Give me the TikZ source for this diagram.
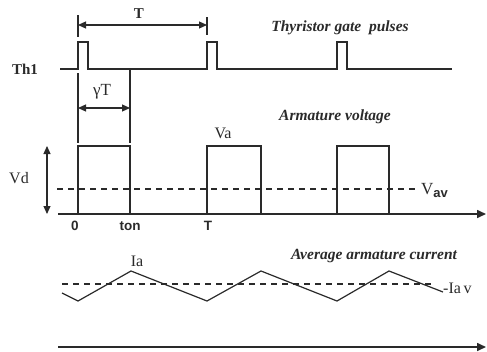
\documentclass[tikz,border=0pt]{standalone}
\usepackage{fontspec}
\setmainfont{Liberation Serif}
\setsansfont{Liberation Sans}
\usetikzlibrary{arrows.meta}
\definecolor{ink}{HTML}{2A2A2A}
\tikzset{
  sig/.style={draw=ink, line width=1.2pt},
  axis/.style={draw=ink, line width=1.6pt, -{Triangle[length=9pt,width=8pt]}},
  dimline/.style={draw=ink, line width=1.1pt},
  dimarrow/.style={draw=ink, line width=1.1pt, {Triangle[length=8pt,width=7pt]}-{Triangle[length=8pt,width=7pt]}},
  avgline/.style={draw=ink, line width=1.2pt, dash pattern=on 6pt off 5pt},
  blob/.style={draw=ink, line width=2pt},
  title/.style={font=\fontsize{15.5}{17}\selectfont\bfseries\itshape, text=ink, inner sep=0pt},
  lab/.style={font=\fontsize{16}{18}\selectfont, text=ink, inner sep=0pt},
  tick/.style={font=\sffamily\bfseries\fontsize{13.5}{15}\selectfont, text=ink, inner sep=0pt},
}
\begin{document}
\begin{tikzpicture}[x=1pt,y=-1pt]
\useasboundingbox (0,0) rectangle (487,351);
\fill[white] (0,0) rectangle (487,351);

% ---------- gate pulses ----------
\draw[sig] (60,69) -- (78,69) -- (78,42) -- (88,42) -- (88,69) -- (207,69) -- (207,42) -- (217,42) -- (217,69)
  -- (337,69) -- (337,42) -- (347,42) -- (347,69) -- (452,69);
\draw[blob] (132,69) -- (147,69);
\draw[blob] (259,69) -- (276,69);
\draw[blob] (388,69) -- (402,69);
\node[lab, font=\fontsize{15}{17}\selectfont\bfseries] (th) at (25,69) {Th1};
\node[title] (tgp) at (340,28) {Thyristor gate\ \ pulses};

% T dimension
\coordinate (t0a) at (78,15);
\coordinate (t0b) at (78,37);
\coordinate (t1a) at (207,17);
\coordinate (t1b) at (207,35);
\draw[dimline] (t0a) -- (t0b);
\draw[dimline] (t1a) -- (t1b);
\coordinate (ta) at (78,25);
\coordinate (tb) at (207,25);
\draw[dimarrow] (ta) -- (tb);
\node[lab, font=\fontsize{15}{17}\selectfont\bfseries] (T) at (139,14) {T};

% gamma T dimension
\coordinate (g0a) at (78,73);
\coordinate (g0b) at (78,143);
\coordinate (g1a) at (130,69);
\coordinate (g1b) at (130,143);
\draw[dimline] (g0a) -- (g0b);
\draw[dimline] (g1a) -- (g1b);
\coordinate (ga) at (78,108);
\coordinate (gb) at (130,108);
\draw[dimarrow] (ga) -- (gb);
\node[lab, font=\fontsize{17}{19}\selectfont] (gT) at (102,92) {γT};

% ---------- armature voltage ----------
\node[title] (av) at (335,117) {Armature voltage};
\coordinate (ax0) at (58,214);
\coordinate (ax1) at (486,214);
\draw[axis] (ax0) -- (ax1);
\draw[sig] (58,214) -- (78,214) -- (78,146) -- (130,146) -- (130,214) -- (207,214) -- (207,146) -- (261,146) -- (261,214)
  -- (337,214) -- (337,146) -- (389,146) -- (389,214);
\coordinate (va0) at (57,189);
\coordinate (va1) at (418,189);
\draw[avgline] (va0) -- (va1);
\node[lab, anchor=west, font=\fontsize{17}{19}\selectfont] (vav) at (421,190) {V\raisebox{-3pt}{\sffamily\bfseries\fontsize{13}{14}\selectfont av}};
\coordinate (vd0) at (47,146);
\coordinate (vd1) at (47,214);
\draw[dimarrow] (vd0) -- (vd1);
\node[lab] (vd) at (19,178) {Vd};
\node[lab] (va) at (223,133) {Va};
\node[tick] (l0) at (75,226) {0};
\node[tick] (lon) at (130,226) {ton};
\node[tick] (lT) at (208,226) {T};

% ---------- armature current ----------
\node[title] (ac) at (374,256) {Average armature current};
\draw[sig] (62,293) -- (78,301) -- (131,271) -- (207,301) -- (261,271) -- (337,301) -- (389,271) -- (443,292);
\coordinate (ia0) at (62,284);
\coordinate (ia1) at (433,284);
\draw[avgline] (ia0) -- (ia1);
\node[lab, anchor=west] (iav) at (443,288) {-Ia\,v};
\node[lab] (ia) at (137,261) {Ia};
\coordinate (bx0) at (58,347);
\coordinate (bx1) at (486,347);
\draw[axis] (bx0) -- (bx1);
\end{tikzpicture}
\end{document}
